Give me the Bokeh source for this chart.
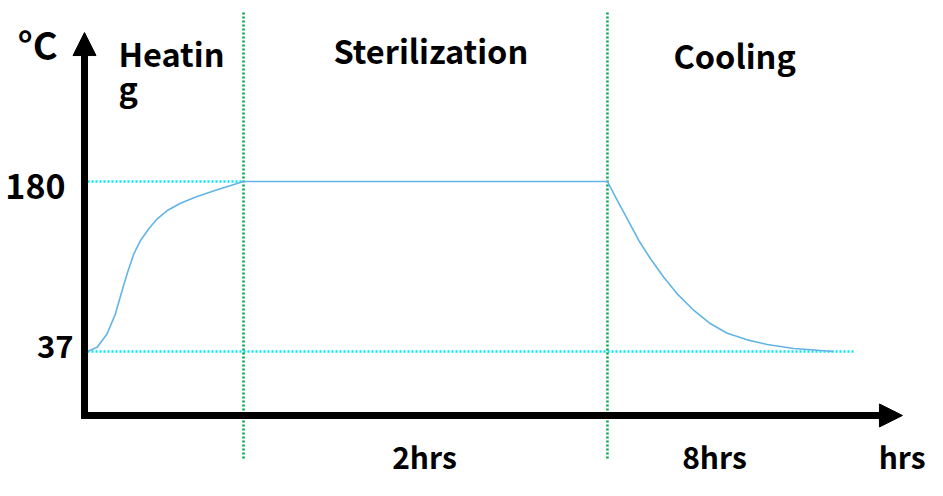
from bokeh.plotting import figure
from bokeh.models import Range1d, Arrow, NormalHead
from bokeh.core.properties import value
from bokeh.embed import file_html
from bokeh.resources import INLINE

# ---- data (schematic: x = relative time units, y = temperature in °C) ----
phase_names = ["Heatin\ng", "Sterilization", "Cooling"]
phase_bounds = [0.0, 1.0, 3.333]
duration_labels = ["2hrs", "8hrs"]
temp_ticks = [180, 37]
temp_tick_labels = ["180", "37"]

heat_t = [0.0, 0.062, 0.126, 0.179, 0.222, 0.254, 0.297, 0.340, 0.393,
          0.447, 0.511, 0.596, 0.703, 0.831, 1.0]
heat_T = [37, 40.6, 51.9, 68.7, 88.3, 102.4, 119.2, 130.4, 140.2,
          148.6, 155.6, 161.7, 167.4, 173.0, 180]
cool_t = [3.333, 3.385, 3.46, 3.534, 3.609, 3.694, 3.78, 3.887, 3.994,
          4.101, 4.229, 4.357, 4.528, 4.784]
cool_T = [180, 166.8, 148.6, 130.4, 115.0, 99.5, 85.5, 71.5, 60.3,
          52.4, 46.8, 42.9, 39.5, 37]

curve_t = heat_t + cool_t
curve_T = heat_T + cool_T

FONT = value("Noto Sans CJK SC")

p = figure(width=927, height=480, output_backend="svg", toolbar_location=None,
           x_range=Range1d(-0.5577, 5.3846), y_range=Range1d(-71.5, 332.25),
           x_axis_type=None, y_axis_type=None, min_border=0)
p.grid.visible = False
p.outline_line_color = None
p.background_fill_color = "white"

# reference dotted lines
p.line([0, phase_bounds[1]], [temp_ticks[0], temp_ticks[0]], line_color="#00eaf5",
       line_width=2.4, line_dash="2 2")
p.line([0, 4.92], [temp_ticks[1], temp_ticks[1]], line_color="#00eaf5",
       line_width=2.4, line_dash="2 2")
for b in phase_bounds[1:]:
    p.line([b, b], [-53.0, 323.8], line_color="#00a84c", line_width=2.6, line_dash="2 2")

# temperature curve
p.line(curve_t, curve_T, line_color="#63b4e6", line_width=1.6, line_join="round")

# axes with arrows
ax_x = -0.0192
ax_y = -16.8
p.add_layout(Arrow(end=NormalHead(size=23, fill_color="black", line_color="black", line_width=1),
                   x_start=ax_x, y_start=ax_y - 2.94, x_end=ax_x, y_end=305.3,
                   line_width=7, line_color="black", line_cap="butt"))
p.add_layout(Arrow(end=NormalHead(size=23, fill_color="black", line_color="black", line_width=1),
                   x_start=ax_x - 0.0224, y_start=ax_y, x_end=5.224, y_end=ax_y,
                   line_width=7, line_color="black", line_cap="butt"))

# texts
p.text([-0.4487], [296.1], text=["°C"], text_font=FONT, text_font_style="bold",
       text_font_size="38px", text_color="black", text_baseline="alphabetic")
head_lines = phase_names[0].split("\n")
p.text([0.1987, 0.1987], [288.5, 259.5], text=head_lines, text_font=FONT,
       text_font_style="bold", text_font_size="32.5px", text_color="black",
       text_baseline="alphabetic")
p.text([1.577, 3.756], [290.8, 287.1], text=phase_names[1:], text_font=FONT,
       text_font_style="bold", text_font_size="32.5px", text_color="black",
       text_baseline="alphabetic")
p.text([-0.141], [175.5], text=[temp_tick_labels[0]], text_font=FONT,
       text_font_style="bold", text_font_size="34px", text_color="black",
       text_align="right", text_baseline="alphabetic")
p.text([-0.0897], [41.5], text=[temp_tick_labels[1]], text_font=FONT,
       text_font_style="bold", text_font_size="31px", text_color="black",
       text_align="right", text_baseline="alphabetic")
p.text([1.953, 3.812], [-50.6, -50.6], text=duration_labels, text_font=FONT,
       text_font_style="bold", text_font_size="30px", text_color="black",
       text_baseline="alphabetic")
p.text([5.372], [-50.6], text=["hrs"], text_font=FONT,
       text_font_style="bold", text_font_size="30px", text_color="black",
       text_align="right", text_baseline="alphabetic")

open("out.html", "w").write(file_html(p, INLINE))
